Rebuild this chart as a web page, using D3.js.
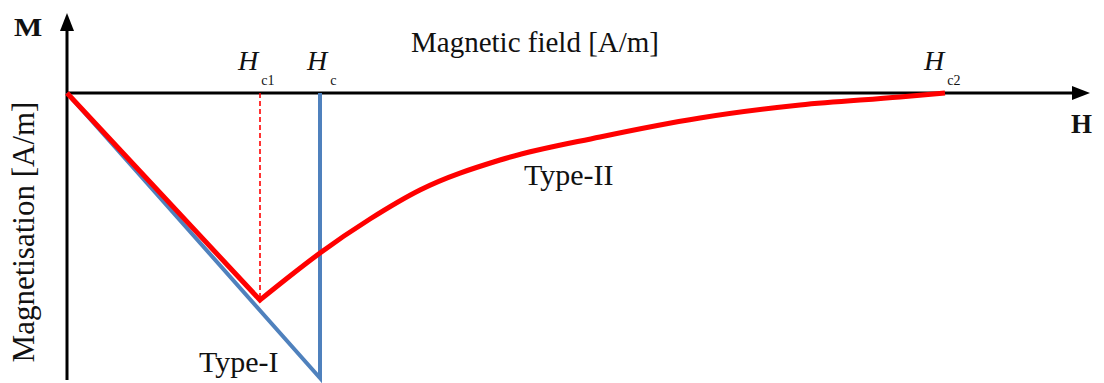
<!DOCTYPE html>
<html><head><meta charset="utf-8">
<script src="https://cdn.jsdelivr.net/npm/d3@7"></script>
<style>body{margin:0;background:#fff}svg{display:block}</style>
</head><body><svg id="c" width="1104" height="383"></svg>
<script>
// Critical fields (A/m, arbitrary units)
const criticalNames = ["c1", "c", "c2"];
const criticalFields = [193, 253, 878];
// Type-I magnetisation curve [H, M]
const typeIH = [0, 253, 253];
const typeIM = [0, -285, 0];
// Type-II magnetisation: linear part up to Hc1, then decay to Hc2
const typeIILinH = [0, 193];
const typeIILinM = [0, -207];
const typeIIDecH = [193, 223, 253, 303, 353, 433, 533, 633, 733, 833, 878];
const typeIIDecM = [-207, -183, -160, -126, -97, -67, -44, -25, -12, -4, 0];
const seriesLabels = ["Type-I", "Type-II"];

const FONT = "'Liberation Serif', 'Times New Roman', 'DejaVu Serif', serif";
const svg = d3.select("#c");
const x = d3.scaleLinear().domain([0, 1023]).range([67, 1090]);
const y = d3.scaleLinear().domain([-287, 0]).range([380, 93]);

const blue = "#4f81bd", red = "#ff0000";

// Axes
svg.append("line").attr("x1", x(0)).attr("x2", x(1005)).attr("y1", y(0)).attr("y2", y(0))
  .attr("stroke", "#000").attr("stroke-width", 3);
svg.append("path").attr("d", `M${x(1023)},${y(0)} L${x(1005)},${y(0)-7} L${x(1005)},${y(0)+7} Z`).attr("fill", "#000");
svg.append("line").attr("x1", x(0)).attr("x2", x(0)).attr("y1", y(-287)).attr("y2", 30)
  .attr("stroke", "#000").attr("stroke-width", 3);
svg.append("path").attr("d", `M${x(0)},13 L${x(0)-7},31 L${x(0)+7},31 Z`).attr("fill", "#000");

// Type-I
const line = d3.line().x(d => x(d[0])).y(d => y(d[1]));
svg.append("path").datum(typeIH.map((h, i) => [h, typeIM[i]]))
  .attr("d", line).attr("fill", "none").attr("stroke", blue).attr("stroke-width", 4).attr("stroke-linejoin", "miter");

// dashed Hc1 marker
svg.append("line").attr("x1", x(criticalFields[0])).attr("x2", x(criticalFields[0]))
  .attr("y1", y(0)).attr("y2", y(typeIILinM[1]))
  .attr("stroke", red).attr("stroke-width", 1.6).attr("stroke-dasharray", "5,3");

// Type-II
const pts1 = typeIILinH.map((h, i) => [h, typeIILinM[i]]);
const pts2 = typeIIDecH.map((h, i) => [h, typeIIDecM[i]]);
const lineC = d3.line().x(d => x(d[0])).y(d => y(d[1])).curve(d3.curveMonotoneX);
svg.append("path").attr("d", line(pts1) + lineC(pts2).replace(/^M/, "L"))
  .attr("fill", "none").attr("stroke", red).attr("stroke-width", 5).attr("stroke-linejoin", "miter");

// Labels
function txt(xp, yp, size, s) {
  return svg.append("text").attr("x", xp).attr("y", yp).attr("font-size", size)
    .attr("font-family", FONT).attr("fill", "#111").text(s);
}
txt(14, 36, 26, "M").attr("font-weight", "bold")
  .attr("transform", "translate(14,36) scale(1.15,1) translate(-14,-36)");
txt(1071, 133, 27, "H").attr("font-weight", "bold");
txt(535, 52, 29, "Magnetic field [A/m]").attr("text-anchor", "middle");
txt(0, 0, 31, "Magnetisation [A/m]").attr("x", null).attr("y", null)
  .attr("transform", "translate(34,232) rotate(-90)").attr("text-anchor", "middle");

const hOff = [-22, -13, -21];
criticalFields.forEach((h, i) => {
  const t = svg.append("text").attr("x", x(h) + hOff[i]).attr("y", 70).attr("font-size", 28)
    .attr("font-family", FONT).attr("fill", "#111").attr("font-style", "italic");
  t.append("tspan").text("H");
  t.append("tspan").attr("font-size", 14).attr("font-style", "normal").attr("dx", 3).attr("dy", 15).text(criticalNames[i]);
});

txt(199, 372, 30, seriesLabels[0]);
txt(524, 185, 30, seriesLabels[1]);
</script></body></html>
